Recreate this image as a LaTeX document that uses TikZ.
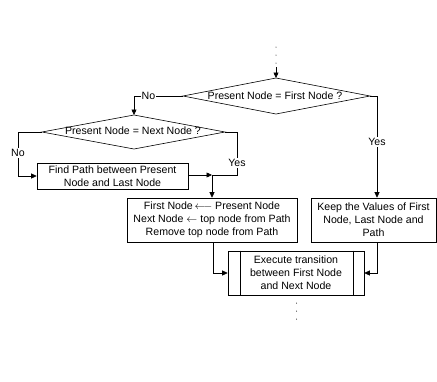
\documentclass[tikz,border=0pt]{standalone}
\usepackage{fontspec}
\setmainfont{Liberation Sans}
\usetikzlibrary{arrows.meta}
\begin{document}
\begin{tikzpicture}[x=1pt,y=-1pt,
  line width=0.6pt,
  every node/.style={font=\fontsize{10.6}{13}\selectfont},
  arr/.style={-{Triangle[length=5.5pt,width=5pt]}},
  boxnode/.style={draw,align=center,inner sep=0pt},
  txt/.style={inner sep=0pt,align=center},
  lbl/.style={fill=white,inner sep=1pt}]
\useasboundingbox (0,0) rectangle (437,381);

% ---- diamond 1
\coordinate (d1t) at (276,78);
\coordinate (d1r) at (370,96);
\coordinate (d1b) at (276,114);
\coordinate (d1l) at (183,96);
\draw (d1t) -- (d1r) -- (d1b) -- (d1l) -- cycle;
\node[txt] (d1) at (275,96) {Present Node = First Node ?};

% ---- diamond 2
\coordinate (d2t) at (134,115);
\coordinate (d2r) at (225,132);
\coordinate (d2b) at (134,149);
\coordinate (d2l) at (42,132);
\draw (d2t) -- (d2r) -- (d2b) -- (d2l) -- cycle;
\node[txt] (d2) at (133,131) {Present Node = Next Node ?};

% ---- boxes
\node[boxnode,minimum width=151pt,minimum height=26pt] (fp) at (112.5,176) {Find Path between Present\\Node and Last Node};
\node[boxnode,minimum width=170pt,minimum height=44pt] (fn) at (212,220) {First Node\,$\longleftarrow$ Present Node\\Next Node $\leftarrow$ top node from Path\\Remove top node from Path};
\node[boxnode,minimum width=125pt,minimum height=44pt] (kv) at (373.5,220) {Keep the Values of First\\Node, Last Node and\\Path};
\node[boxnode,minimum width=136pt,minimum height=44pt] (ex) at (296,273) {Execute transition\\between First Node\\and Next Node};
\draw ([xshift=12.5pt]ex.north west) -- ([xshift=12.5pt]ex.south west);
\draw ([xshift=-11.5pt]ex.north east) -- ([xshift=-11.5pt]ex.south east);

% ---- top dots
\coordinate (top0) at (276,47);
\coordinate (top1) at (276,67);
\draw[line width=1pt,line cap=round,dash pattern=on 0pt off 8pt] (top0) -- (top1);
\draw[arr] (top1) -- (d1t);

% ---- bottom dots
\coordinate (bot0) at (296.5,303);
\coordinate (bot1) at (296.5,320);
\draw[line width=1pt,line cap=round,dash pattern=on 0pt off 8pt] (bot0) -- (bot1);

% ---- No from diamond 1
\coordinate (n1) at (134,96);
\draw[arr] (d1l) -- (n1) -- (d2t);
\node[lbl] at (148.5,96) {No};

% ---- Yes from diamond 1
\coordinate (y1) at (377,96);
\draw[arr] (d1r) -- (y1) -- (y1 |- kv.north);
\node[lbl] at (377,142) {Yes};

% ---- No from diamond 2
\coordinate (n2a) at (18,132);
\coordinate (n2b) at (18,176);
\draw[arr] (d2l) -- (n2a) -- (n2b) -- (fp.west |- n2b);
\node[lbl] at (18,153) {No};

% ---- Yes from diamond 2
\coordinate (y2a) at (237,132);
\coordinate (y2b) at (237,175);
\coordinate (y2c) at (212,175);
\draw[arr] (d2r) -- (y2a) -- (y2b) -- (y2c) -- (y2c |- fn.north);
\node[lbl] at (237,163) {Yes};

% ---- Find Path to junction
\draw[arr] (fp.east |- y2c) -- (y2c);

% ---- into execute
\coordinate (e1) at (213,273);
\draw[arr] (fn.south -| e1) -- (e1) -- (ex.west);
\coordinate (e2) at (377,273);
\draw[arr] (kv.south -| e2) -- (e2) -- (ex.east);
\end{tikzpicture}
\end{document}
